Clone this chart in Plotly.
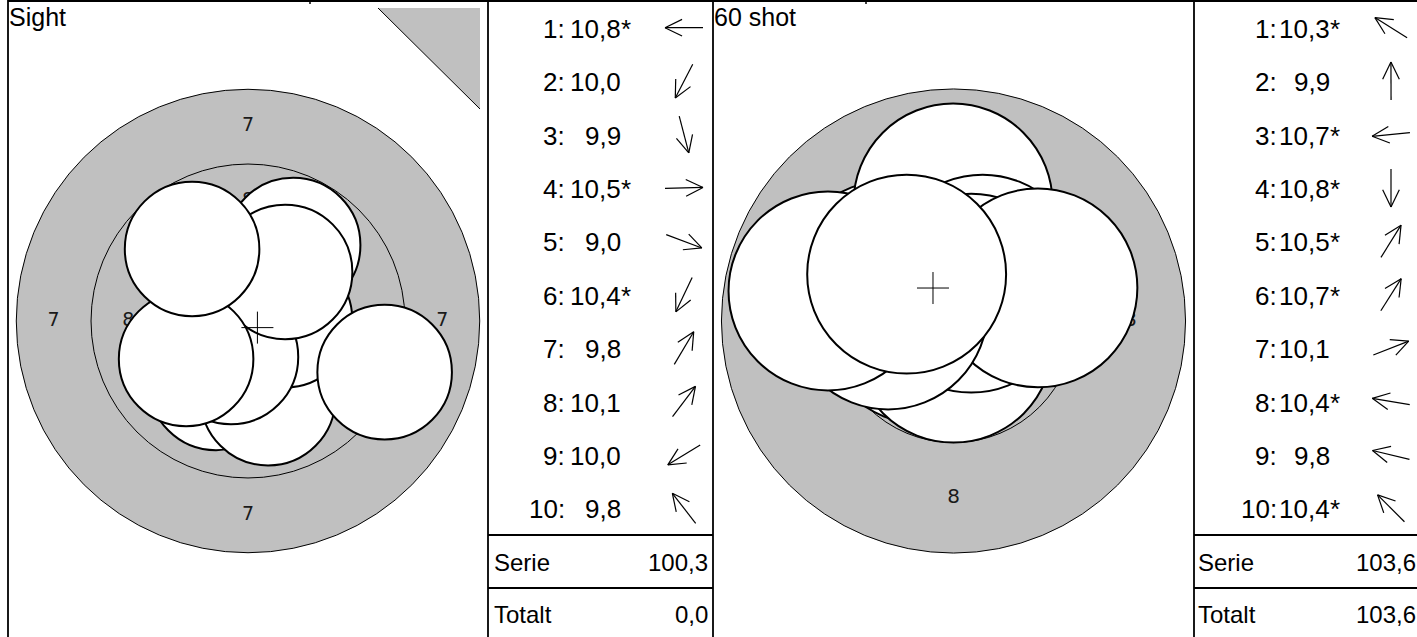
import math
import plotly.graph_objects as go

W, H = 1417, 637

# ---------------- data ----------------
shot_no = list(range(1, 11))

sight_scores = [10.8, 10.0, 9.9, 10.5, 9.0, 10.4, 9.8, 10.1, 10.0, 9.8]
sight_inner = [True, False, False, True, False, True, False, False, False, False]
sight_x_mm = [-0.50, -1.07, 0.67, 1.24, 4.57, -0.57, 1.51, 1.24, -2.07, -1.87]
sight_y_mm = [0.00, -2.07, -2.58, 0.03, -1.71, -1.20, 2.54, 1.64, -1.27, 2.41]
sight_serie = 100.3
sight_total = 0.0

match_scores = [10.3, 9.9, 10.7, 10.8, 10.5, 10.7, 10.1, 10.4, 9.8, 10.4]
match_inner = [True, False, True, True, True, True, False, True, False, True]
match_x_mm = [-1.48, -0.01, -0.74, 0.00, 0.66, 0.40, 1.91, -1.48, -2.84, -1.06]
match_y_mm = [0.93, 2.67, -0.07, -0.50, 1.06, 0.63, 0.75, 0.25, 0.68, 1.06]
match_serie = 103.6
match_total = 103.6

panel_titles = ["Sight", "60 shot"]
summary_labels = ["Serie", "Totalt"]
ring_radius_mm = {7: 7.75, 8: 5.25, 9: 2.75, 10: 0.25}
shot_radius_mm = 2.25

# ---------------- styling ----------------
GREY = "#c0c0c0"
FONT = "Liberation Sans, Arial, sans-serif"
LAB_FONT = "DejaVu Sans, sans-serif"

targets = [
    dict(title=panel_titles[0], xa="x", ya="y", cx=248.0, cy=321.0, scale=29.9,
         p0=8, p1=488, xs=sight_x_mm, ys=sight_y_mm, disk=7, rings=[8, 9, 10],
         label_rings=[7, 8, 9], lab_size=19),
    dict(title=panel_titles[1], xa="x2", ya="y2", cx=953.5, cy=321.0, scale=44.2,
         p0=713, p1=1194, xs=match_x_mm, ys=match_y_mm, disk=8, rings=[9, 10],
         label_rings=[8, 9], lab_size=20),
]

tables = [
    dict(lx=488, rx=713, colon_x=565, val_x=621, arrow_x=684, lab_x=494, tot_x=708,
         scores=sight_scores, inner=sight_inner, xs=sight_x_mm, ys=sight_y_mm,
         serie=sight_serie, total=sight_total),
    dict(lx=1194, rx=1417, colon_x=1277, val_x=1330, arrow_x=1391, lab_x=1198, tot_x=1416,
         scores=match_scores, inner=match_inner, xs=match_x_mm, ys=match_y_mm,
         serie=match_serie, total=match_total),
]

fig = go.Figure()
shapes = []
annotations = []
layout_axes = {}


def fmt(v):
    return f"{v:.1f}".replace(".", ",")


for i, t in enumerate(targets):
    s = t["scale"]
    xkey = "xaxis" if t["xa"] == "x" else "xaxis" + t["xa"][1:]
    ykey = "yaxis" if t["ya"] == "y" else "yaxis" + t["ya"][1:]
    layout_axes[xkey] = dict(domain=[t["p0"] / W, t["p1"] / W],
                             range=[(t["p0"] - t["cx"]) / s, (t["p1"] - t["cx"]) / s],
                             visible=False, fixedrange=True, anchor=t["ya"])
    layout_axes[ykey] = dict(domain=[0, 1], range=[(t["cy"] - H) / s, t["cy"] / s],
                             visible=False, fixedrange=True, anchor=t["xa"])
    # grey aiming disk
    r = ring_radius_mm[t["disk"]]
    shapes.append(dict(type="circle", xref=t["xa"], yref=t["ya"], x0=-r, x1=r, y0=-r, y1=r,
                       fillcolor=GREY, line=dict(color="black", width=1), layer="below"))
    for n in t["rings"]:
        r = ring_radius_mm[n]
        shapes.append(dict(type="circle", xref=t["xa"], yref=t["ya"], x0=-r, x1=r, y0=-r, y1=r,
                           line=dict(color="black", width=1), layer="below"))
    # ring labels
    lx, ly, lt = [], [], []
    for n in t["label_rings"]:
        rl = (ring_radius_mm[n] + ring_radius_mm[n + 1]) / 2
        for dx, dy in [(0, 1), (0, -1), (-1, 0), (1, 0)]:
            lx.append(dx * rl)
            ly.append(dy * rl)
            lt.append(str(n))
    fig.add_trace(go.Scatter(x=lx, y=ly, text=lt, mode="text", xaxis=t["xa"], yaxis=t["ya"],
                             textfont=dict(family=LAB_FONT, size=t["lab_size"], color="#1a1a1a"),
                             hoverinfo="skip", showlegend=False))
    # shots
    rs = shot_radius_mm
    for sx, sy in zip(t["xs"], t["ys"]):
        shapes.append(dict(type="circle", xref=t["xa"], yref=t["ya"],
                           x0=sx - rs, x1=sx + rs, y0=sy - rs, y1=sy + rs,
                           fillcolor="white", line=dict(color="black", width=2), layer="above"))
    # group centre cross
    mx = sum(t["xs"]) / len(t["xs"])
    my = sum(t["ys"]) / len(t["ys"])
    hs = 16 / s
    shapes.append(dict(type="line", xref=t["xa"], yref=t["ya"], x0=mx - hs, x1=mx + hs, y0=my, y1=my,
                       line=dict(color="black", width=1), layer="above"))
    shapes.append(dict(type="line", xref=t["xa"], yref=t["ya"], x0=mx, x1=mx, y0=my - hs, y1=my + hs,
                       line=dict(color="black", width=1), layer="above"))
    # panel title
    annotations.append(dict(text=t["title"], xref="x3", yref="y3", x=t["p0"] + 1, y=17,
                            xanchor="left", yanchor="middle", showarrow=False,
                            font=dict(family=FONT, size=25, color="black"),
                            borderpad=0, borderwidth=0))

# pixel overlay axes for the tables and frame
layout_axes["xaxis3"] = dict(domain=[0, 1], range=[0, W], visible=False, fixedrange=True, anchor="y3")
layout_axes["yaxis3"] = dict(domain=[0, 1], range=[H, 0], visible=False, fixedrange=True, anchor="x3")

# sighter triangle (top-right corner of Sight panel)
shapes.append(dict(type="path", xref="x3", yref="y3", path="M 378 8 L 480 8 L 480 109 Z",
                   fillcolor=GREY, line=dict(width=0), layer="below"))
shapes.append(dict(type="line", xref="x3", yref="y3", x0=378, y0=8, x1=480, y1=109,
                   line=dict(color="black", width=1)))

# frame lines
FR = dict(color="black", width=1.8)
for vx in [8, 488, 713, 1194]:
    shapes.append(dict(type="line", xref="x3", yref="y3", x0=vx, x1=vx, y0=0, y1=H, line=FR))
shapes.append(dict(type="line", xref="x3", yref="y3", x0=8, x1=W, y0=1, y1=1, line=dict(color="black", width=2)))
for tx in [310, 866]:
    shapes.append(dict(type="line", xref="x3", yref="y3", x0=tx, x1=tx, y0=0, y1=4, line=dict(color="black", width=1.5)))

ROW_TOP, ROW_BOT = 1.0, 535.0
row_h = (ROW_BOT - ROW_TOP) / len(shot_no)
ARROW_L = 38.0
BARB_L = 19.0
BARB_A = math.radians(26)
ROW_FONT = 26

ax_x, ax_y = [], []
for tb in tables:
    for y_line in [535, 588]:
        shapes.append(dict(type="line", xref="x3", yref="y3", x0=tb["lx"], x1=tb["rx"], y0=y_line, y1=y_line, line=FR))
    for k, n in enumerate(shot_no):
        yc = ROW_TOP + row_h * (k + 0.5)
        ty = yc + 1
        annotations.append(dict(text=f"{n}:", xref="x3", yref="y3", x=tb["colon_x"], y=ty,
                                xanchor="right", yanchor="middle", showarrow=False,
                                font=dict(family=FONT, size=ROW_FONT, color="black"), borderpad=0, borderwidth=0))
        annotations.append(dict(text=fmt(tb["scores"][k]), xref="x3", yref="y3", x=tb["val_x"], y=ty,
                                xanchor="right", yanchor="middle", showarrow=False,
                                font=dict(family=FONT, size=ROW_FONT, color="black"), borderpad=0, borderwidth=0))
        if tb["inner"][k]:
            annotations.append(dict(text="*", xref="x3", yref="y3", x=tb["val_x"], y=ty,
                                    xanchor="left", yanchor="middle", showarrow=False,
                                    font=dict(family=FONT, size=ROW_FONT, color="black"), borderpad=0, borderwidth=0))
        # direction arrow from shot position
        dx, dy = tb["xs"][k], -tb["ys"][k]
        norm = math.hypot(dx, dy) or 1.0
        ux, uy = dx / norm, dy / norm
        x0, y0 = tb["arrow_x"] - ux * ARROW_L / 2, yc - uy * ARROW_L / 2
        x1, y1 = tb["arrow_x"] + ux * ARROW_L / 2, yc + uy * ARROW_L / 2
        ax_x += [x0, x1, None]
        ax_y += [y0, y1, None]
        for sgn in (1, -1):
            ca, sa = math.cos(sgn * BARB_A), math.sin(sgn * BARB_A)
            bx = -ux * ca + uy * sa
            by = -ux * sa - uy * ca
            ax_x += [x1, x1 + bx * BARB_L, None]
            ax_y += [y1, y1 + by * BARB_L, None]
    # summary rows
    for lab, val, yc in [(summary_labels[0], tb["serie"], 562), (summary_labels[1], tb["total"], 614)]:
        annotations.append(dict(text=lab, xref="x3", yref="y3", x=tb["lab_x"], y=yc,
                                xanchor="left", yanchor="middle", showarrow=False,
                                font=dict(family=FONT, size=24, color="black"), borderpad=0, borderwidth=0))
        annotations.append(dict(text=fmt(val), xref="x3", yref="y3", x=tb["tot_x"], y=yc,
                                xanchor="right", yanchor="middle", showarrow=False,
                                font=dict(family=FONT, size=24, color="black"), borderpad=0, borderwidth=0))

fig.add_trace(go.Scatter(x=ax_x, y=ax_y, mode="lines", xaxis="x3", yaxis="y3",
                         line=dict(color="black", width=1.2), hoverinfo="skip", showlegend=False))

fig.update_layout(width=W, height=H, margin=dict(l=0, r=0, t=0, b=0),
                  paper_bgcolor="white", plot_bgcolor="rgba(0,0,0,0)",
                  showlegend=False, shapes=shapes, annotations=annotations, **layout_axes)

fig.write_html("out.html", config={"displayModeBar": False},
               post_script="document.body.style.margin='0';document.body.style.overflow='hidden';")
